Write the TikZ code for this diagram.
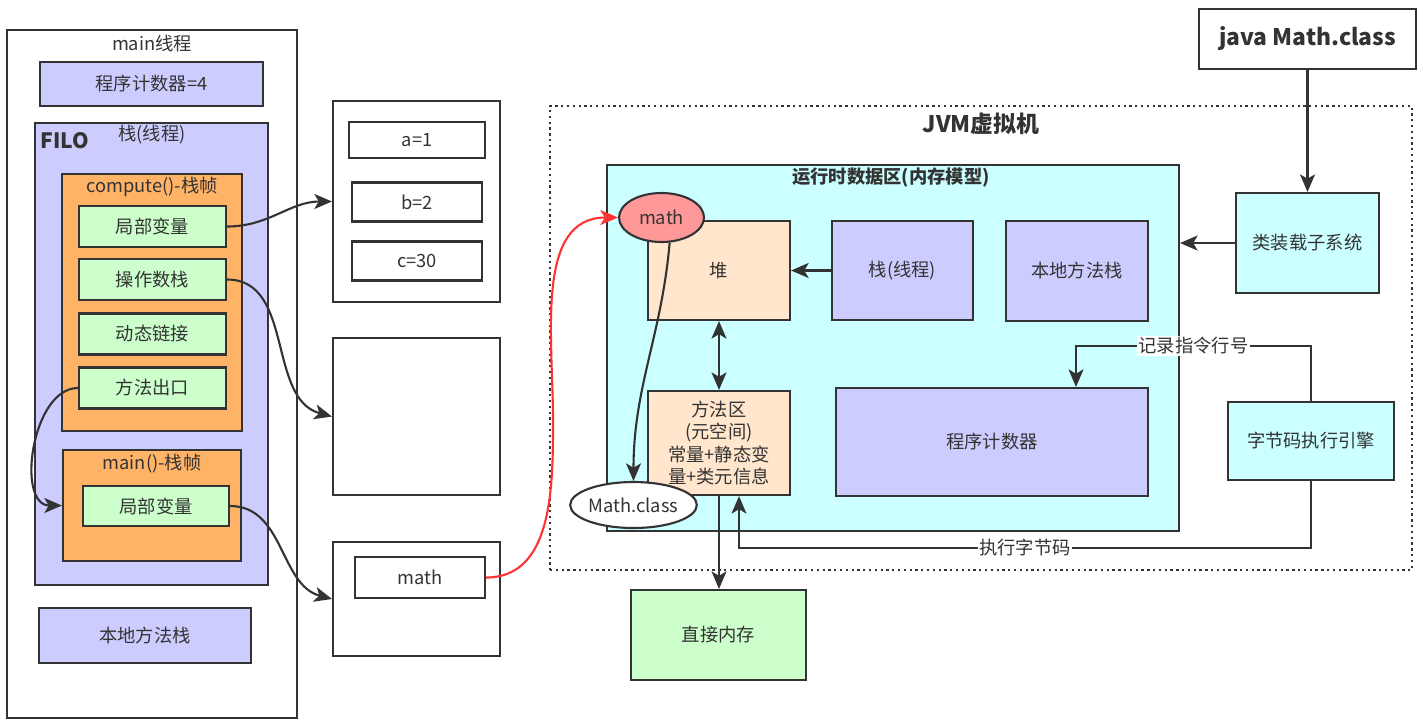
\documentclass[tikz,border=0pt]{standalone}
\usepackage{fontspec}
\setmainfont{Noto Sans CJK SC}
\usepackage{tikz}
\usetikzlibrary{shapes,arrows.meta,positioning,calc}

\definecolor{linegray}{HTML}{333333}
\definecolor{lav}{HTML}{CCCCFF}
\definecolor{orng}{HTML}{FFB366}
\definecolor{grn}{HTML}{CCFFCC}
\definecolor{peach}{HTML}{FFE6CC}
\definecolor{cyn}{HTML}{CCFFFF}
\definecolor{pink}{HTML}{FF9999}
\definecolor{redline}{HTML}{FF3333}

\begin{document}
\begin{tikzpicture}[
    x=0.02cm, y=-0.02cm,
    font=\fontsize{10.4}{12.8}\selectfont,
    text=linegray,
    box_style/.style={draw=linegray, line width=1.2pt, rectangle, inner sep=0pt, align=center},
    oval_style/.style={draw=linegray, line width=1.2pt, ellipse, inner sep=0pt},
    title_style/.style={inner sep=1pt},
    arrow_style/.style={draw=linegray, line width=1.2pt, -{Stealth[length=10pt,width=8.5pt,inset=2.5pt]}},
    tag_style/.style={fill=white, inner sep=1pt}
]
\useasboundingbox (0,0) rectangle (1426,725);

% main thread column
\node[box_style, minimum width=5.8cm, minimum height=13.76cm] (mainthread) at (152,374) {};
\node[title_style] (mainthreadtitle) at (152,44) {main线程};
\node[box_style, fill=lav, minimum width=4.46cm, minimum height=0.88cm] (pcfour) at (151.5,84) {程序计数器=4};
\node[box_style, fill=lav, minimum width=4.66cm, minimum height=9.24cm] (threadstack) at (151.5,354) {};
\node[title_style, font=\fontsize{12}{14}\selectfont\bfseries] (filo) at (65,141) {FILO};
\node[title_style] (stacktitle) at (152,135) {栈(线程)};

\node[box_style, fill=orng, minimum width=3.6cm, minimum height=5.14cm] (computeframe) at (152,302.5) {};
\node[title_style] (computetitle) at (152,187) {compute()-栈帧};
\node[box_style, fill=grn, minimum width=2.94cm, minimum height=0.82cm] (localvars) at (152.5,226.5) {局部变量};
\node[box_style, fill=grn, minimum width=2.94cm, minimum height=0.82cm] (opstack) at (152.5,279.5) {操作数栈};
\node[box_style, fill=grn, minimum width=2.94cm, minimum height=0.82cm] (dynlink) at (152.5,334) {动态链接};
\node[box_style, fill=grn, minimum width=2.94cm, minimum height=0.82cm] (methodexit) at (152.5,388) {方法出口};

\node[box_style, fill=orng, minimum width=3.56cm, minimum height=2.22cm] (mainframe) at (152,505.5) {};
\node[title_style] (mainframetitle) at (152,464) {main()-栈帧};
\node[box_style, fill=grn, minimum width=2.92cm, minimum height=0.8cm] (mainvars) at (156,506) {局部变量};

\node[box_style, fill=lav, minimum width=4.24cm, minimum height=1.1cm] (nativeleft) at (145,635.5) {本地方法栈};

% heap values
\node[box_style, minimum width=3.34cm, minimum height=4.02cm] (valbox) at (416.5,201.5) {};
\node[box_style, minimum width=2.72cm, minimum height=0.72cm] (vala) at (417,140) {a=1};
\node[box_style, minimum width=2.6cm, minimum height=0.78cm] (valb) at (417,202) {b=2};
\node[box_style, minimum width=2.6cm, minimum height=0.78cm] (valc) at (417,261) {c=30};
\node[box_style, minimum width=3.34cm, minimum height=3.14cm] (opbox) at (416.5,416.5) {};
\node[box_style, minimum width=3.34cm, minimum height=2.28cm] (refbox) at (416.5,599) {};
\node[box_style, minimum width=2.6cm, minimum height=0.82cm] (mathref) at (420,577.5) {math};

% JVM
\node[draw=linegray, line width=1.3pt, dotted, minimum width=17.24cm, minimum height=9.28cm, inner sep=0pt] (jvm) at (981,338) {};
\node[title_style, font=\fontsize{13}{15}\selectfont\bfseries] (jvmtitle) at (981,124) {JVM虚拟机};
\node[box_style, fill=cyn, minimum width=11.44cm, minimum height=7.32cm] (runtime) at (893,348) {};
\node[title_style, font=\fontsize{10.4}{12.8}\selectfont\bfseries] (runtimetitle) at (891,178) {运行时数据区(内存模型)};

\node[box_style, fill=peach, minimum width=2.84cm, minimum height=1.98cm] (heap) at (719,270.5) {堆};
\node[box_style, fill=lav, minimum width=2.82cm, minimum height=1.98cm] (jvmstack) at (902.5,270.5) {栈(线程)};
\node[box_style, fill=lav, minimum width=2.84cm, minimum height=2cm] (nativeright) at (1077,271) {本地方法栈};
\node[box_style, fill=peach, minimum width=2.84cm, minimum height=2.08cm] (methodarea) at (719,443) {方法区\\(元空间)\\常量+静态变\\量+类元信息};
\node[box_style, fill=lav, minimum width=6.24cm, minimum height=2.16cm] (pcounter) at (992,442) {程序计数器};
\node[oval_style, fill=pink, minimum width=1.7cm, minimum height=0.98cm] (mathobj) at (661.5,217.5) {math};
\node[oval_style, fill=white, minimum width=2.46cm, minimum height=0.92cm] (mathclass) at (633.5,505) {Math.class};
\node[box_style, fill=grn, minimum width=3.5cm, minimum height=1.8cm] (directmem) at (718.5,635) {直接内存};

\node[box_style, minimum width=4.34cm, minimum height=1.2cm, font=\fontsize{13}{15}\selectfont\bfseries] (javacmd) at (1307.5,39) {java Math.class};
\node[box_style, fill=cyn, minimum width=2.86cm, minimum height=2cm] (loader) at (1307.5,243) {类装载子系统};
\node[box_style, fill=cyn, minimum width=3.32cm, minimum height=1.56cm] (engine) at (1311,441) {字节码执行引擎};

\coordinate (recbend) at (1076,346);
\coordinate (execbend) at (739,548);
\coordinate (redbend) at (553,420);

% connectors
\draw[arrow_style] (localvars.east) to[out=0,in=180] (valbox.west);
\draw[arrow_style] (opstack.east) to[out=0,in=165] (opbox.west);
\draw[arrow_style] (mainvars.east) to[out=0,in=165] (refbox.west);
\draw[arrow_style] (methodexit.west) to[out=180,in=180] (mainframe.west);
\draw[arrow_style, draw=redline] (mathref.east) to[out=0,in=-90] (redbend) to[out=90,in=180] (mathobj.west);

\draw[arrow_style] (javacmd.south) -- (loader.north);
\draw[arrow_style] (loader.west) -- (runtime.east |- loader.west);
\draw[arrow_style] (jvmstack.west) -- (heap.east);
\draw[arrow_style, {Stealth[length=10pt,width=8.5pt,inset=2.5pt]}-{Stealth[length=10pt,width=8.5pt,inset=2.5pt]}] (heap.south) -- (methodarea.north);
\draw[arrow_style] (methodarea.south) -- (methodarea.south |- directmem.north);
\draw[arrow_style] (mathobj.-72) to[out=-95,in=90] (mathclass.north);
\draw[arrow_style] (engine.north) |- node[pos=0.75, tag_style] {记录指令行号} (recbend) -- (pcounter.north -| recbend);
\draw[arrow_style] (engine.south) |- node[pos=0.75, tag_style] {执行字节码} (execbend) -- (methodarea.south -| execbend);

\end{tikzpicture}
\end{document}
